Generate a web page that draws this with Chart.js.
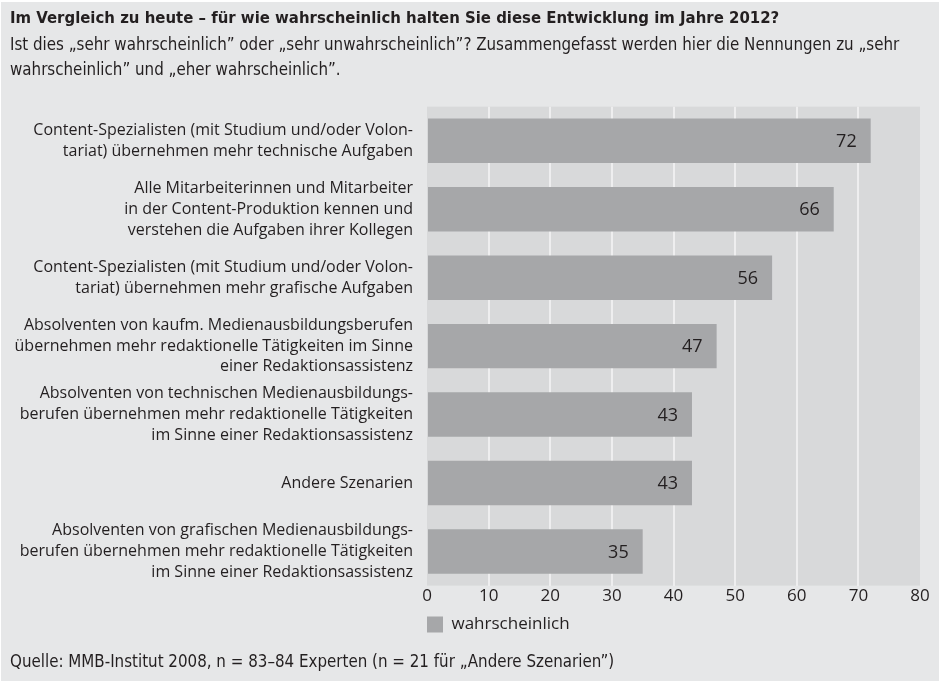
<!DOCTYPE html>
<html>
<head>
<meta charset="utf-8">
<script src="https://cdn.jsdelivr.net/npm/chart.js@4.4.1/dist/chart.umd.min.js"></script>
<style>
  html, body { margin: 0; padding: 0; background: #ffffff; }
  #wrap { position: absolute; left: 1px; top: 2px; width: 938px; height: 679px; background: #e6e7e8; }
  canvas { display: block; }
</style>
</head>
<body>
<div id="wrap"><canvas id="c" width="938" height="679"></canvas></div>
<script>
const titleText = "Im Vergleich zu heute – für wie wahrscheinlich halten Sie diese Entwicklung im Jahre 2012?";
const subtitleLines = [
  "Ist dies „sehr wahrscheinlich” oder „sehr unwahrscheinlich”? Zusammengefasst werden hier die Nennungen zu „sehr",
  "wahrscheinlich” und „eher wahrscheinlich”."
];
const sourceText = "Quelle: MMB-Institut 2008, n = 83–84 Experten (n = 21 für „Andere Szenarien”)";
const categories = [
  ["Content-Spezialisten (mit Studium und/oder Volon-", "tariat) übernehmen mehr technische Aufgaben"],
  ["Alle Mitarbeiterinnen und Mitarbeiter", "in der Content-Produktion kennen und", "verstehen die Aufgaben ihrer Kollegen"],
  ["Content-Spezialisten (mit Studium und/oder Volon-", "tariat) übernehmen mehr grafische Aufgaben"],
  ["Absolventen von kaufm. Medienausbildungsberufen", "übernehmen mehr redaktionelle Tätigkeiten im Sinne", "einer Redaktionsassistenz"],
  ["Absolventen von technischen Medienausbildungs-", "berufen übernehmen mehr redaktionelle Tätigkeiten", "im Sinne einer Redaktionsassistenz"],
  ["Andere Szenarien"],
  ["Absolventen von grafischen Medienausbildungs-", "berufen übernehmen mehr redaktionelle Tätigkeiten", "im Sinne einer Redaktionsassistenz"]
];
const seriesName = "wahrscheinlich";
const values = [72, 66, 56, 47, 43, 43, 35];
const xTicks = [0, 10, 20, 30, 40, 50, 60, 70, 80];

const TEXT = "#231f20";
const CONDENSED = "'Liberation Sans Narrow', 'DejaVu Sans Condensed', 'Liberation Sans', sans-serif";
const REGULAR = "'Open Sans', 'Noto Sans', sans-serif";

const plotBg = {
  id: 'plotBg',
  beforeDraw(chart) {
    const {ctx, chartArea: a} = chart;
    ctx.save();
    ctx.fillStyle = '#d8d9da';
    ctx.fillRect(a.left, a.top, a.right - a.left, a.bottom - a.top);
    ctx.restore();
  }
};

const valueLabels = {
  id: 'valueLabels',
  afterDatasetsDraw(chart) {
    const {ctx} = chart;
    const meta = chart.getDatasetMeta(0);
    ctx.save();
    ctx.font = "18px " + REGULAR;
    ctx.fillStyle = TEXT;
    ctx.textAlign = 'right';
    ctx.textBaseline = 'middle';
    meta.data.forEach((bar, i) => {
      ctx.fillText(String(values[i]), bar.x - 14, bar.y + 1);
    });
    ctx.restore();
  }
};

const sourceNote = {
  id: 'sourceNote',
  afterDraw(chart) {
    const {ctx} = chart;
    ctx.save();
    ctx.font = "16.8px " + CONDENSED;
    ctx.fillStyle = TEXT;
    ctx.textAlign = 'left';
    ctx.textBaseline = 'middle';
    ctx.fillText(sourceText, 9, chart.height - 18);
    ctx.restore();
  }
};

new Chart(document.getElementById('c'), {
  type: 'bar',
  data: {
    labels: categories,
    datasets: [{
      label: seriesName,
      data: values,
      backgroundColor: '#a6a7a9',
      borderWidth: 0,
      barPercentage: 0.65,
      categoryPercentage: 1.0
    }]
  },
  options: {
    indexAxis: 'y',
    responsive: false,
    animation: false,
    devicePixelRatio: 1,
    layout: { padding: { left: 9, right: 19, top: 0, bottom: 38 } },
    scales: {
      x: {
        min: 0, max: 80,
        afterBuildTicks(scale) { scale.ticks = xTicks.map(v => ({ value: v })); },
        afterFit(scale) { scale.height += 10; },
        grid: {
          drawTicks: false,
          lineWidth: 2,
          color: (c) => (c.tick && (c.tick.value === 0 || c.tick.value === 80)) ? 'rgba(0,0,0,0)' : '#eeeeef'
        },
        border: { display: false },
        ticks: { color: TEXT, font: { family: REGULAR, size: 17 }, padding: 0 }
      },
      y: {
        afterFit(scale) { scale.width = 417; },
        grid: { display: false, drawTicks: false },
        border: { display: false },
        ticks: { color: TEXT, font: { family: REGULAR, size: 16, lineHeight: 1.3 }, padding: 14 }
      }
    },
    plugins: {
      title: {
        display: true, text: titleText, align: 'start', color: TEXT,
        font: { family: CONDENSED, size: 16.6, weight: 'bold', lineHeight: 1.2 },
        padding: { top: 7, bottom: 4 }
      },
      subtitle: {
        display: true, text: subtitleLines, align: 'start', color: TEXT,
        font: { family: CONDENSED, size: 16.8, lineHeight: 1.48 },
        padding: { top: 0, bottom: 24 }
      },
      legend: {
        display: true, position: 'bottom', align: 'start', fullSize: false,
        labels: { color: TEXT, boxWidth: 16, boxHeight: 16, padding: 0, font: { family: REGULAR, size: 17 } }
      },
      tooltip: { enabled: false }
    }
  },
  plugins: [plotBg, valueLabels, sourceNote]
});
</script>
</body>
</html>
